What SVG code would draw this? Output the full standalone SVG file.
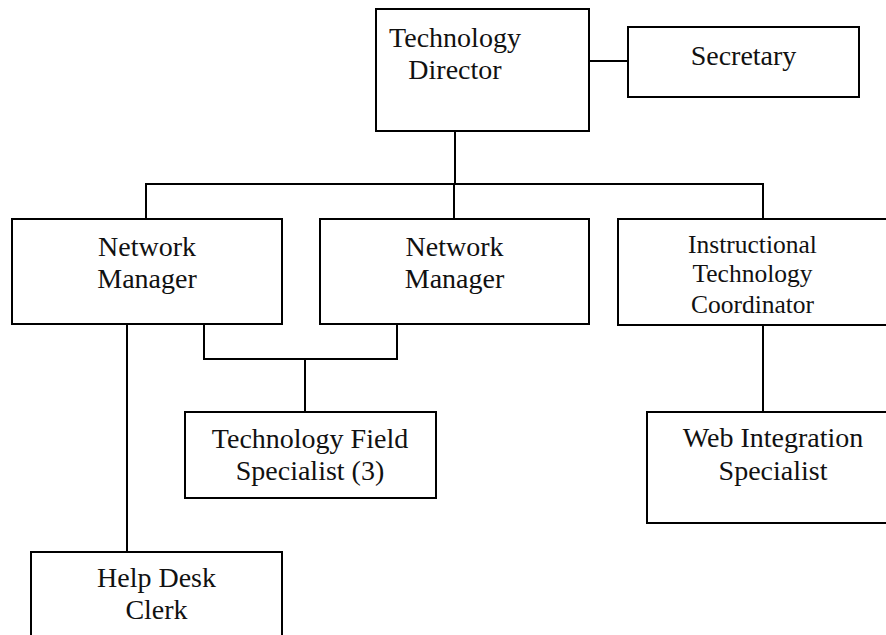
<svg xmlns="http://www.w3.org/2000/svg" width="886" height="635" viewBox="0 0 886 635">
  <style>
    .box { fill: #ffffff; stroke: #000000; stroke-width: 2; }
    .wire { fill: none; stroke: #000000; stroke-width: 2; }
    .lbl { font-family: "Liberation Serif", "Times New Roman", serif; font-size: 28px; fill: #111111; text-anchor: middle; }
    .lbl-sm { font-size: 25.5px; }
  </style>
  <rect width="886" height="635" fill="#ffffff"/>

  <g id="connectors">
    <path class="wire" d="M589 61 H628"/>
    <path class="wire" d="M455 131 V184"/>
    <path class="wire" d="M146 219 V184 H763 V219"/>
    <path class="wire" d="M454 184 V219"/>
    <path class="wire" d="M127 324 V552"/>
    <path class="wire" d="M204 324 V359 H397 V324"/>
    <path class="wire" d="M305 359 V412"/>
    <path class="wire" d="M763 325 V412"/>
  </g>

  <g id="technology-director">
    <rect class="box" x="376" y="9" width="213" height="122"/>
    <text class="lbl" x="455" y="47">Technology</text>
    <text class="lbl" x="455" y="79">Director</text>
  </g>

  <g id="secretary">
    <rect class="box" x="628" y="27" width="231" height="70"/>
    <text class="lbl" x="743.5" y="65">Secretary</text>
  </g>

  <g id="network-manager-1">
    <rect class="box" x="12" y="219" width="270" height="105"/>
    <text class="lbl" x="147" y="256">Network</text>
    <text class="lbl" x="147" y="288">Manager</text>
  </g>

  <g id="network-manager-2">
    <rect class="box" x="320" y="219" width="269" height="105"/>
    <text class="lbl" x="454.5" y="256">Network</text>
    <text class="lbl" x="454.5" y="288">Manager</text>
  </g>

  <g id="instructional-technology-coordinator">
    <rect class="box" x="618" y="219" width="290" height="106"/>
    <text class="lbl lbl-sm" x="752.5" y="252.5">Instructional</text>
    <text class="lbl lbl-sm" x="752.5" y="282">Technology</text>
    <text class="lbl lbl-sm" x="752.5" y="312.5">Coordinator</text>
  </g>

  <g id="technology-field-specialist">
    <rect class="box" x="185" y="412" width="251" height="86"/>
    <text class="lbl" x="310" y="448">Technology Field</text>
    <text class="lbl" x="310" y="480">Specialist (3)</text>
  </g>

  <g id="web-integration-specialist">
    <rect class="box" x="647" y="412" width="260" height="111"/>
    <text class="lbl" x="773" y="447">Web Integration</text>
    <text class="lbl" x="773" y="480">Specialist</text>
  </g>

  <g id="help-desk-clerk">
    <rect class="box" x="31" y="552" width="251" height="100"/>
    <text class="lbl" x="156.5" y="587">Help Desk</text>
    <text class="lbl" x="156.5" y="619">Clerk</text>
  </g>
</svg>
